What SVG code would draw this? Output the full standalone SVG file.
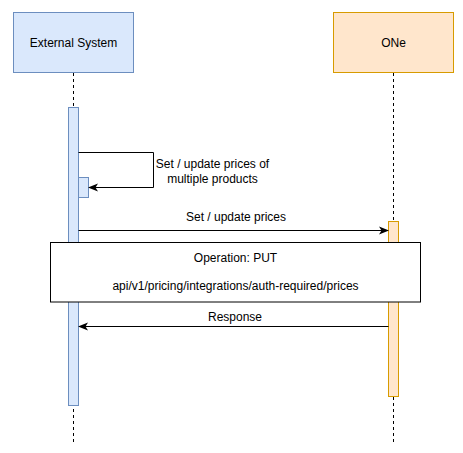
<svg xmlns="http://www.w3.org/2000/svg" width="463" height="453" viewBox="0 0 463 453">
<defs>
<style>
text{font-family:"Liberation Sans",Arial,sans-serif;font-size:12px;fill:#000;text-anchor:middle}
.life{stroke:#000;stroke-width:1;stroke-dasharray:3 3;fill:none}
.msg{stroke:#000;stroke-width:1;fill:none}
.blue{fill:#dae8fc;stroke:#6c8ebf;stroke-width:1}
.orange{fill:#ffe6cc;stroke:#d79b00;stroke-width:1}
</style>
<marker id="arr" viewBox="0 0 10 10" refX="9" refY="5" markerWidth="10" markerHeight="10" markerUnits="userSpaceOnUse" orient="auto">
<path d="M0,1 L10,5 L0,9 L2.5,5 Z" fill="#000"/>
</marker>
</defs>
<rect width="463" height="453" fill="#fff"/>
<g id="lifelines">
<line class="life" x1="73.5" y1="73" x2="73.5" y2="442"/>
<line class="life" x1="393.5" y1="73" x2="393.5" y2="442"/>
</g>
<g id="external-system">
<rect class="blue" x="13.5" y="12.5" width="120" height="60"/>
<text x="73.5" y="46.5">External System</text>
</g>
<g id="one">
<rect class="orange" x="333.5" y="12.5" width="120" height="60"/>
<text x="393.5" y="46.5">ONe</text>
</g>
<g id="external-activation">
<rect class="blue" x="68.5" y="107.5" width="10" height="298"/>
</g>
<g id="self-activation">
<rect class="blue" x="78.5" y="177.5" width="10" height="20"/>
</g>
<g id="one-activation">
<rect class="orange" x="388.5" y="221.5" width="10" height="175"/>
</g>
<g id="connectors">
<path class="msg" d="M78.5,152.5 H153.5 V187.5 H89" marker-end="url(#arr)"/>
<line class="msg" x1="78.5" y1="230.5" x2="388" y2="230.5" marker-end="url(#arr)"/>
<line class="msg" x1="388.5" y1="326.5" x2="79" y2="326.5" marker-end="url(#arr)"/>
</g>
<g id="labels">
<text x="212.5" y="168">Set / update prices of</text>
<text x="212.5" y="182.5">multiple products</text>
<text x="236" y="220.5">Set / update prices</text>
<text x="235" y="320.5">Response</text>
</g>
<g id="note">
<rect x="50.5" y="242.5" width="370" height="59.5" fill="#fff" stroke="#000" stroke-width="1"/>
<text x="235.5" y="261.5">Operation: PUT</text>
<text x="235.5" y="290">api/v1/pricing/integrations/auth-required/prices</text>
</g>
</svg>
